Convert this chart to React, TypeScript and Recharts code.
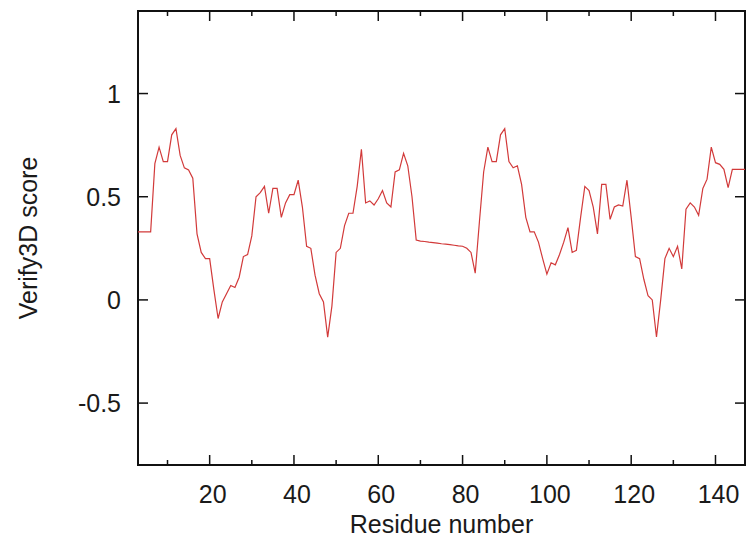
import { Line, LineChart, ReferenceArea, XAxis, YAxis } from "recharts";

// Verify3D profile, one score per residue starting at residue 3
const FIRST_RESIDUE = 3;
const scores = [
  0.33, 0.33, 0.33, 0.33, 0.66, 0.74, 0.67, 0.67, 0.8, 0.83,
  0.7, 0.64, 0.63, 0.59, 0.32, 0.23, 0.2, 0.2, 0.05, -0.09,
  -0.01, 0.03, 0.07, 0.06, 0.11, 0.21, 0.22, 0.31, 0.5, 0.52,
  0.55, 0.42, 0.54, 0.54, 0.4, 0.47, 0.51, 0.51, 0.58, 0.45,
  0.26, 0.25, 0.12, 0.03, -0.01, -0.18, -0.03, 0.23, 0.25, 0.36,
  0.42, 0.42, 0.55, 0.73, 0.47, 0.48, 0.46, 0.49, 0.53, 0.47,
  0.45, 0.62, 0.63, 0.71, 0.65, 0.5, 0.29, 0.285, 0.283, 0.28,
  0.278, 0.275, 0.272, 0.27, 0.268, 0.265, 0.262, 0.26, 0.25, 0.23,
  0.13, 0.38, 0.62, 0.74, 0.67, 0.67, 0.8, 0.83, 0.67, 0.64,
  0.65, 0.56, 0.4, 0.33, 0.33, 0.28, 0.2, 0.125, 0.18, 0.17,
  0.22, 0.28, 0.35, 0.23, 0.24, 0.4, 0.55, 0.53, 0.45, 0.32,
  0.56, 0.56, 0.39, 0.45, 0.46, 0.455, 0.58, 0.4, 0.21, 0.2,
  0.1, 0.02, 0.0, -0.18, 0.0, 0.2, 0.25, 0.21, 0.26, 0.15,
  0.44, 0.47, 0.45, 0.41, 0.54, 0.585, 0.74, 0.665, 0.657, 0.633,
  0.544, 0.633, 0.633, 0.633, 0.633,
];

// major ticks get a label, the odd tens are short unlabelled ticks
const xTicks = [10, 20, 30, 40, 50, 60, 70, 80, 90, 100, 110, 120, 130, 140];
const xLabelled = [20, 40, 60, 80, 100, 120, 140];
const yTicks = [-0.5, 0, 0.5, 1];
const xDomain: [number, number] = [3, 147];
const yDomain: [number, number] = [-0.8, 1.4];

const data = scores.map((score, i) => ({
  residue: FIRST_RESIDUE + i,
  score,
}));

const FONT = "'Liberation Sans', Arial, Helvetica, sans-serif";
const INK = "#1a1a1a";
const FRAME = "#111";

// plot box size, used to mirror tick marks onto the opposite side (gnuplot style)
const PLOT_W = 607;
const PLOT_H = 454;

const XTick = ({ x, y, payload }: any) => {
  const major = xLabelled.includes(payload.value);
  const len = major ? 10 : 5;
  return (
    <g>
      <line x1={x} x2={x} y1={y} y2={y - len} stroke={FRAME} strokeWidth={1.5} />
      <line
        x1={x}
        x2={x}
        y1={y - PLOT_H}
        y2={y - PLOT_H + len}
        stroke={FRAME}
        strokeWidth={1.5}
      />
      {major && (
        <text
          x={x + 3}
          y={y + 38}
          textAnchor="middle"
          fontFamily={FONT}
          fontSize={25}
          fill={INK}
        >
          {payload.value}
        </text>
      )}
    </g>
  );
};

const YTick = ({ x, y, payload }: any) => (
  <g>
    <line x1={x} x2={x + 10} y1={y} y2={y} stroke={FRAME} strokeWidth={1.5} />
    <line
      x1={x + PLOT_W}
      x2={x + PLOT_W - 10}
      y1={y}
      y2={y}
      stroke={FRAME}
      strokeWidth={1.5}
    />
    <text
      x={x - 17}
      y={y}
      dy="0.36em"
      textAnchor="end"
      fontFamily={FONT}
      fontSize={25}
      fill={INK}
    >
      {String(payload.value)}
    </text>
  </g>
);

const YTitle = () => (
  <text
    transform="translate(28, 238) rotate(-90)"
    textAnchor="middle"
    dominantBaseline="central"
    fontFamily={FONT}
    fontSize={25}
    fill={INK}
  >
    Verify3D score
  </text>
);

export default function App() {
  return (
    <div style={{ position: "absolute", left: 0, top: 0, background: "#fff" }}>
      <LineChart
        width={747}
        height={550}
        data={data}
        margin={{ top: 11, right: 2, bottom: 0, left: 0 }}
      >
        <XAxis
          dataKey="residue"
          type="number"
          domain={xDomain}
          allowDataOverflow
          ticks={xTicks}
          interval={0}
          tickSize={0}
          tickMargin={0}
          tick={<XTick />}
          tickLine={false}
          axisLine={false}
          height={85}
          label={{
            value: "Residue number",
            position: "insideBottom",
            offset: 17,
            fill: INK,
            fontSize: 25,
            fontFamily: FONT,
          }}
        />
        <YAxis
          type="number"
          domain={yDomain}
          allowDataOverflow
          ticks={yTicks}
          interval={0}
          tickSize={0}
          tickMargin={0}
          tick={<YTick />}
          tickLine={false}
          axisLine={false}
          width={138}
          label={<YTitle />}
        />
        {/* full frame around the plot */}
        <ReferenceArea
          x1={xDomain[0]}
          x2={xDomain[1]}
          y1={yDomain[0]}
          y2={yDomain[1]}
          fill="none"
          stroke={FRAME}
          strokeWidth={2}
          ifOverflow="extendDomain"
        />
        <Line
          type="linear"
          dataKey="score"
          stroke="#d23a3a"
          strokeWidth={1.2}
          dot={false}
          isAnimationActive={false}
        />
      </LineChart>
    </div>
  );
}
